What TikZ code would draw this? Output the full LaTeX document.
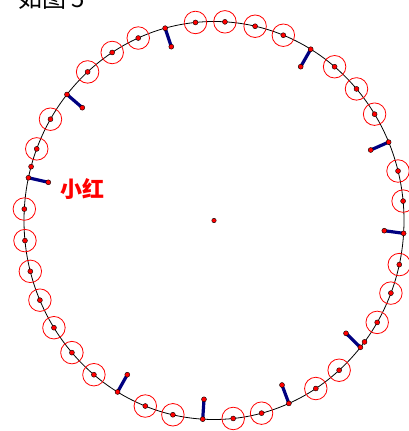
\documentclass[tikz,border=0pt]{standalone}
\usepackage{fontspec}
\newfontfamily\cjk{Noto Sans CJK SC}
\begin{document}
\begin{tikzpicture}[x=1pt,y=-1pt,
  dot/.style={circle,fill=red,draw=black,line width=0.4pt,inner sep=0pt,minimum size=5pt},
  ring/.style={draw=red,line width=0.8pt,circle,inner sep=0pt,minimum size=22.5pt},
  stick/.style={draw={rgb,255:red,0;green,0;blue,128},line width=3.2pt},
  track/.style={draw=black,line width=0.8pt}]
\useasboundingbox (0,0) rectangle (409,431);
\clip (0,0) rectangle (409,431);
\def\cx{214}\def\cy{220.5}\def\rx{190}\def\ry{199}
% big track
\draw[track] (\cx,\cy) ellipse [x radius=\rx, y radius=\ry];
% titles
\node[anchor=base west,inner sep=0pt,font=\cjk\fontsize{24}{24}\selectfont] (title) at (18,7) {如图 5};
\node[text=red,inner sep=0pt,font=\cjk\bfseries\fontsize{22}{22}\selectfont] (xh) at (82,189) {小红};
% ringed points
\foreach \a [count=\i] in {86.7,77.5,68.6,50.6,41.4,32.3,14.4,5.6,-12.8,-21.4,-30.8,-48.8,-57.6,-75.5,-84.2,-102.5,-111.2,-129.2,-138.4,-147.4,-156.4,-165.2,-174.2,176.7,158.9,149.4,131.7,122.4,113.5,95.6}{
  \coordinate (r\i) at ({\cx+\rx*cos(\a)},{\cy-\ry*sin(\a)});
  \node[ring] (rc\i) at (r\i) {};
}
% sticks
\foreach \a/\x/\y [count=\i] in {59.4/300.7/66.7, 23.2/370.7/150, -3.7/384.3/230.7, -39.6/346/333.3, -66.8/282/385, -93.4/204/399.3, -120.5/127.3/374.7, 167.6/48.3/182.3, 140.7/82.3/107.7, 104.9/171.3/46.7}{
  \coordinate (s\i) at ({\cx+\rx*cos(\a)},{\cy-\ry*sin(\a)});
  \coordinate (t\i) at (\x,\y);
  \draw[stick] (s\i) -- (t\i);
  \node[dot] (sd\i) at (s\i) {};
  \node[dot] (td\i) at (t\i) {};
}
% dots on ringed points
\foreach \i in {1,...,30}{ \node[dot] (rd\i) at (r\i) {}; }
% plain points
\foreach \a [count=\i] in {-37.6,164.3}{
  \coordinate (q\i) at ({\cx+\rx*cos(\a)},{\cy-\ry*sin(\a)});
  \node[dot] (qd\i) at (q\i) {};
}
% centre
\node[dot,minimum size=4.5pt] (centre) at (\cx,\cy) {};
\end{tikzpicture}
\end{document}
